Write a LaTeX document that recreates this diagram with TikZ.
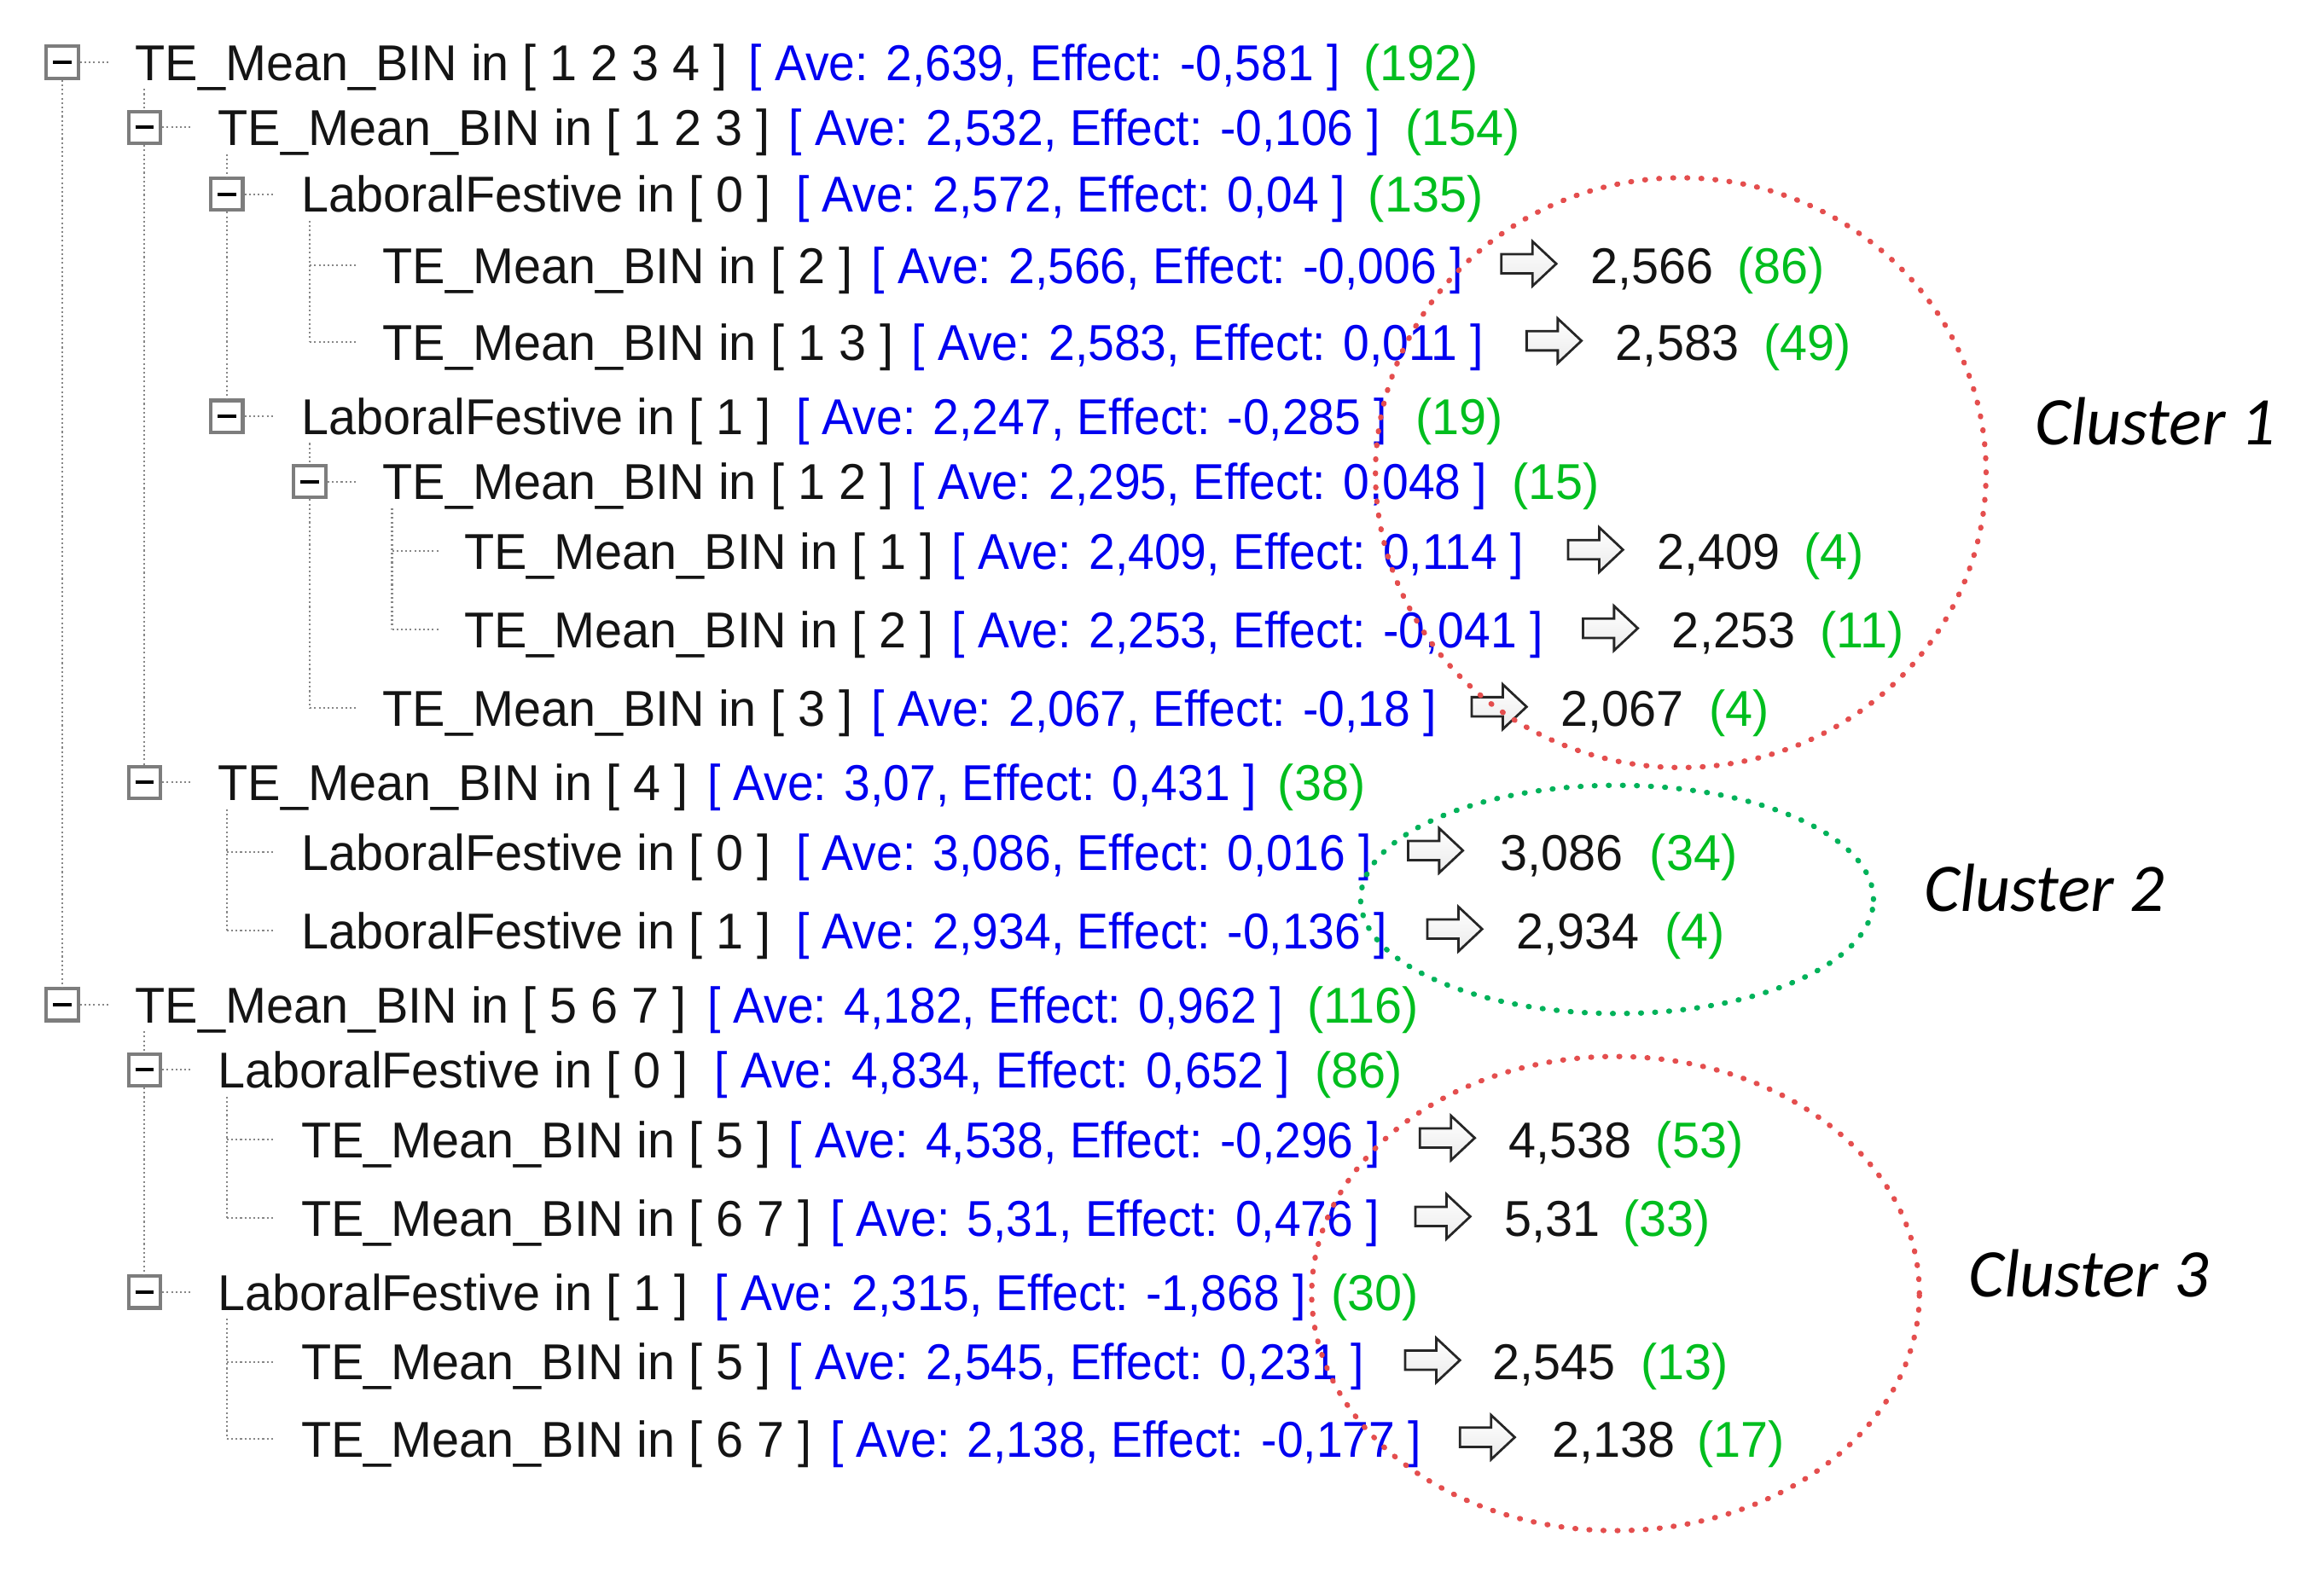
\documentclass[tikz,border=0pt]{standalone}
\usepackage{fontspec}
\usetikzlibrary{shapes.geometric}
\newfontfamily\treefont{Liberation Sans}[FakeStretch=0.975]
\newfontfamily\avefont{Liberation Sans}[FakeStretch=0.935]
\newfontfamily\clusterfont{Carlito}
\definecolor{tblue}{RGB}{0,0,240}
\definecolor{tgreen}{RGB}{0,190,30}
\definecolor{cred}{RGB}{228,78,78}
\definecolor{cgreen}{RGB}{0,178,90}
\definecolor{tgray}{RGB}{125,125,125}
\definecolor{cgray}{RGB}{135,135,135}
\tikzset{
 lbl/.style={inner sep=0pt, anchor=base west, font=\treefont\fontsize{34}{40}\selectfont, text=black!92},
 avelbl/.style={lbl, font=\avefont\fontsize{34}{40}\selectfont, text=tblue},
 cntlbl/.style={lbl, text=tgreen},
 tbox/.style={draw=tgray, line width=2.4pt, fill=white, minimum size=21.5pt, inner sep=0pt,
   path picture={\draw[black, line width=2.3pt] ([xshift=-6.2pt]path picture bounding box.center) -- ([xshift=6.2pt]path picture bounding box.center);}},
 conn/.style={draw=cgray, line width=1.2pt, dash pattern=on 1.2pt off 1.8pt},
 harrow/.style={draw=black!85, line width=1.6pt, line join=miter, top color=white, bottom color=black!8},
 clusterell/.style={ellipse, inner sep=0pt, line width=3.6pt, dash pattern=on 0.5pt off 9pt, line cap=round},
 clbl/.style={inner sep=0pt, anchor=base west, font=\clusterfont\itshape\fontsize{46}{52}\selectfont, text=black}
}
\newcommand\trlabel[6]{%
 \node[lbl] (k#1) at (#3,#2+12.2) {#4};
 \node[avelbl] (a#1) at (#5,#2+12.2) {#6};}
\newcommand\trcount[4]{%
 \node[cntlbl] (n#1) at (#3,#2+12.2) {#4};}
\newcommand\trleaf[7]{%
 \draw[harrow] (#3,#2-1) ++(0,-6.5) -- ++(21,0) -- ++(0,-8.5) -- ++(16,15) -- ++(-16,15) -- ++(0,-8.5) -- ++(-21,0) -- cycle;
 \node[lbl] (v#1) at (#4,#2+12.2) {#5};
 \node[cntlbl] (n#1) at (#6,#2+12.2) {#7};}
\begin{document}
\begin{tikzpicture}[x=1pt,y=-1pt]
\useasboundingbox (0,0) rectangle (1568,1068);
% boxes
\node[tbox] (b1) at (42,42) {};
\node[tbox] (b2) at (97.5,86) {};
\node[tbox] (b3) at (153,131) {};
\node[tbox] (b6) at (153,281) {};
\node[tbox] (b7) at (209,325) {};
\node[tbox] (b11) at (97.5,528) {};
\node[tbox] (b14) at (42,678) {};
\node[tbox] (b15) at (97.5,722) {};
\node[tbox] (b18) at (97.5,872) {};
% leaf junctions and vertical starts
\coordinate (j4) at (209,179);
\coordinate (j5) at (209,231);
\coordinate (j8) at (264.5,372);
\coordinate (j9) at (264.5,425);
\coordinate (j10) at (209,478);
\coordinate (j12) at (153,575);
\coordinate (j13) at (153,628);
\coordinate (j16) at (153,769);
\coordinate (j17) at (153,822);
\coordinate (j19) at (153,919);
\coordinate (j20) at (153,971);
\coordinate (s2) at (97.5,60);
\coordinate (s15) at (97.5,696);
\coordinate (s3) at (153,104);
\coordinate (s12) at (153,546);
\coordinate (s16) at (153,740);
\coordinate (s19) at (153,890);
\coordinate (s4) at (209,149);
\coordinate (s7) at (209,299);
\coordinate (s8) at (264.5,343);
% connectors
\draw[conn] (b1.south) -- (b14.north);
\draw[conn] (s2) -- (b2.north);
\draw[conn] (b2.south) -- (b11.north);
\draw[conn] (s15) -- (b15.north);
\draw[conn] (b15.south) -- (b18.north);
\draw[conn] (s3) -- (b3.north);
\draw[conn] (b3.south) -- (b6.north);
\draw[conn] (s12) -- (j13);
\draw[conn] (s16) -- (j17);
\draw[conn] (s19) -- (j20);
\draw[conn] (s4) -- (j5);
\draw[conn] (s7) -- (b7.north);
\draw[conn] (b7.south) -- (j10);
\draw[conn] (s8) -- (j9);
\foreach \b in {1,2,3,6,7,11,14,15,18} \draw[conn] (b\b.east) -- ++(20,0);
\foreach \j in {4,5,8,9,10,12,13,16,17,19,20} \draw[conn] (j\j) -- ++(32,0);
% rows
\trlabel{1}{42}{91}{TE\_Mean\_BIN in [ 1 2 3 4 ]}{505}{[ Ave: 2,639, Effect: -0,581 ]}
\trcount{1}{42}{920}{(192)}
\trlabel{2}{86}{147}{TE\_Mean\_BIN in [ 1 2 3 ]}{532}{[ Ave: 2,532, Effect: -0,106 ]}
\trcount{2}{86}{948}{(154)}
\trlabel{3}{131}{203}{LaboralFestive in [ 0 ]}{537}{[ Ave: 2,572, Effect: 0,04 ]}
\trcount{3}{131}{923}{(135)}
\trlabel{4}{179}{258}{TE\_Mean\_BIN in [ 2 ]}{588}{[ Ave: 2,566, Effect: -0,006 ]}
\trleaf{4}{179}{1013}{1073}{2,566}{1172}{(86)}
\trlabel{5}{231}{258}{TE\_Mean\_BIN in [ 1 3 ]}{615}{[ Ave: 2,583, Effect: 0,011 ]}
\trleaf{5}{231}{1030}{1090}{2,583}{1190}{(49)}
\trlabel{6}{281}{203}{LaboralFestive in [ 1 ]}{537}{[ Ave: 2,247, Effect: -0,285 ]}
\trcount{6}{281}{955}{(19)}
\trlabel{7}{325}{258}{TE\_Mean\_BIN in [ 1 2 ]}{615}{[ Ave: 2,295, Effect: 0,048 ]}
\trcount{7}{325}{1020}{(15)}
\trlabel{8}{372}{313}{TE\_Mean\_BIN in [ 1 ]}{642}{[ Ave: 2,409, Effect: 0,114 ]}
\trleaf{8}{372}{1058}{1118}{2,409}{1217}{(4)}
\trlabel{9}{425}{313}{TE\_Mean\_BIN in [ 2 ]}{642}{[ Ave: 2,253, Effect: -0,041 ]}
\trleaf{9}{425}{1068}{1128}{2,253}{1228}{(11)}
\trlabel{10}{478}{258}{TE\_Mean\_BIN in [ 3 ]}{588}{[ Ave: 2,067, Effect: -0,18 ]}
\trleaf{10}{478}{993}{1053}{2,067}{1153}{(4)}
\trlabel{11}{528}{147}{TE\_Mean\_BIN in [ 4 ]}{477}{[ Ave: 3,07, Effect: 0,431 ]}
\trcount{11}{528}{862}{(38)}
\trlabel{12}{575}{203}{LaboralFestive in [ 0 ]}{537}{[ Ave: 3,086, Effect: 0,016 ]}
\trleaf{12}{575}{950}{1012}{3,086}{1113}{(34)}
\trlabel{13}{628}{203}{LaboralFestive in [ 1 ]}{537}{[ Ave: 2,934, Effect: -0,136 ]}
\trleaf{13}{628}{963}{1023}{2,934}{1123}{(4)}
\trlabel{14}{678}{91}{TE\_Mean\_BIN in [ 5 6 7 ]}{477}{[ Ave: 4,182, Effect: 0,962 ]}
\trcount{14}{678}{882}{(116)}
\trlabel{15}{722}{147}{LaboralFestive in [ 0 ]}{482}{[ Ave: 4,834, Effect: 0,652 ]}
\trcount{15}{722}{887}{(86)}
\trlabel{16}{769}{203}{TE\_Mean\_BIN in [ 5 ]}{532}{[ Ave: 4,538, Effect: -0,296 ]}
\trleaf{16}{769}{958}{1018}{4,538}{1117}{(53)}
\trlabel{17}{822}{203}{TE\_Mean\_BIN in [ 6 7 ]}{560}{[ Ave: 5,31, Effect: 0,476 ]}
\trleaf{17}{822}{955}{1015}{5,31}{1095}{(33)}
\trlabel{18}{872}{147}{LaboralFestive in [ 1 ]}{482}{[ Ave: 2,315, Effect: -1,868 ]}
\trcount{18}{872}{898}{(30)}
\trlabel{19}{919}{203}{TE\_Mean\_BIN in [ 5 ]}{532}{[ Ave: 2,545, Effect: 0,231 ]}
\trleaf{19}{919}{948}{1007}{2,545}{1107}{(13)}
\trlabel{20}{971}{203}{TE\_Mean\_BIN in [ 6 7 ]}{560}{[ Ave: 2,138, Effect: -0,177 ]}
\trleaf{20}{971}{985}{1047}{2,138}{1145}{(17)}
% clusters
\node[clusterell, draw=cred, minimum width=412pt, minimum height=398pt] (e1) at (1134,319) {};
\node[clusterell, draw=cgreen, minimum width=346pt, minimum height=154pt] (e2) at (1091,607) {};
\node[clusterell, draw=cred, minimum width=410pt, minimum height=320pt] (e3) at (1090,873) {};
\node[clbl] (l1) at (1373,300) {Cluster 1};
\node[clbl] (l2) at (1298,615) {Cluster 2};
\node[clbl] (l3) at (1328,875) {Cluster 3};
\end{tikzpicture}
\end{document}
